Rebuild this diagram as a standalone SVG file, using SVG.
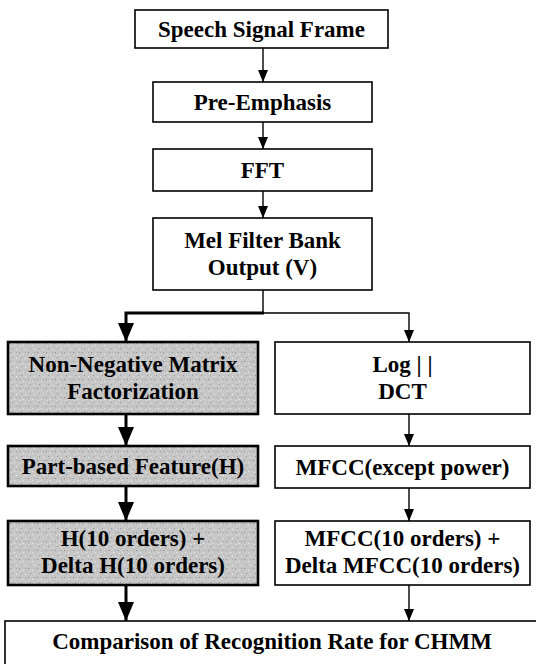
<svg xmlns="http://www.w3.org/2000/svg" width="536" height="664" viewBox="0 0 536 664">
<style>
.box{fill:#fff;stroke:#000;stroke-width:1.6}
.gbox{fill:url(#stip);stroke:#000;stroke-width:2.6}
text{font-family:"Liberation Serif","Times New Roman",serif;font-weight:bold;font-size:23px;fill:#000;text-anchor:middle}
.thin{fill:none;stroke:#000;stroke-width:1.4}
.thick{fill:none;stroke:#000;stroke-width:3}
</style>
<defs>
<pattern id="stip" width="9" height="9" patternUnits="userSpaceOnUse">
<rect width="9" height="9" fill="#c6c6c6"/>
<rect x="1" y="1" width="1" height="1" fill="#8a8a8a"/>
<rect x="5" y="3" width="1" height="1" fill="#eeeeee"/>
<rect x="3" y="6" width="1" height="1" fill="#999"/>
<rect x="7" y="7" width="1" height="1" fill="#f0f0f0"/>
<rect x="7" y="1" width="1" height="1" fill="#a5a5a5"/>
<rect x="2" y="4" width="1" height="1" fill="#e4e4e4"/>
</pattern>
<marker id="aThin" viewBox="0 0 12 10" markerWidth="12" markerHeight="10" refX="12" refY="5" orient="auto" markerUnits="userSpaceOnUse">
<path d="M0,0 L12,5 L0,10 z" fill="#000"/>
</marker>
<marker id="aThick" viewBox="0 0 19 16" markerWidth="19" markerHeight="16" refX="19" refY="8" orient="auto" markerUnits="userSpaceOnUse">
<path d="M0,0 L19,8 L0,16 z" fill="#000"/>
</marker>
</defs>

<g id="connectors">
<path class="thin" d="M263,48 V82" marker-end="url(#aThin)"/>
<path class="thin" d="M263,122 V149" marker-end="url(#aThin)"/>
<path class="thin" d="M263,191 V218" marker-end="url(#aThin)"/>
<path class="thin" d="M263,290 V313 H409 V342" marker-end="url(#aThin)"/>
<path class="thick" d="M264,313 H126 V342" marker-end="url(#aThick)"/>
<path class="thick" d="M126,414 V446" marker-end="url(#aThick)"/>
<path class="thick" d="M126,486 V521" marker-end="url(#aThick)"/>
<path class="thick" d="M126,585 V621" marker-end="url(#aThick)"/>
<path class="thin" d="M409,414 V446" marker-end="url(#aThin)"/>
<path class="thin" d="M409,488 V521" marker-end="url(#aThin)"/>
<path class="thin" d="M409,585 V621" marker-end="url(#aThin)"/>
</g>

<g id="speech">
<rect class="box" x="135" y="10" width="253" height="38"/>
<text x="261.5" y="37">Speech Signal Frame</text>
</g>
<g id="preemphasis">
<rect class="box" x="153" y="82" width="219" height="40"/>
<text x="262.5" y="110">Pre-Emphasis</text>
</g>
<g id="fft">
<rect class="box" x="153" y="149" width="219" height="42"/>
<text x="262.5" y="178">FFT</text>
</g>
<g id="mel">
<rect class="box" x="153" y="218" width="219" height="72"/>
<text x="262.5" y="248">Mel Filter Bank</text>
<text x="262.5" y="275">Output (V)</text>
</g>
<g id="nmf">
<rect class="gbox" x="8" y="342" width="250" height="72"/>
<text x="133" y="372">Non-Negative Matrix</text>
<text x="133" y="399">Factorization</text>
</g>
<g id="logdct">
<rect class="box" x="275" y="342" width="255" height="72"/>
<text x="402.5" y="372">Log | |</text>
<text x="402.5" y="399">DCT</text>
</g>
<g id="partbased">
<rect class="gbox" x="8" y="446" width="250" height="40"/>
<text x="133" y="474">Part-based Feature(H)</text>
</g>
<g id="mfccexcept">
<rect class="box" x="275" y="446" width="255" height="42"/>
<text x="402.5" y="475">MFCC(except power)</text>
</g>
<g id="hdelta">
<rect class="gbox" x="8" y="521" width="250" height="64"/>
<text x="133" y="546">H(10 orders) +</text>
<text x="133" y="573">Delta H(10 orders)</text>
</g>
<g id="mfccdelta">
<rect class="box" x="275" y="521" width="255" height="64"/>
<text x="402.5" y="546">MFCC(10 orders)  +</text>
<text x="402.5" y="573">Delta MFCC(10 orders)</text>
</g>
<g id="comparison">
<rect class="box" x="5" y="621" width="540" height="60"/>
<text x="272" y="649">Comparison of Recognition Rate for CHMM</text>
</g>
</svg>
